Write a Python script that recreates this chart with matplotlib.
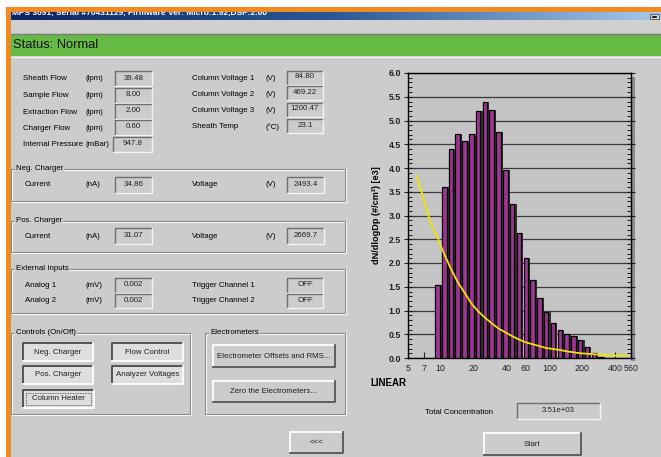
import numpy as np
import matplotlib
matplotlib.use('Agg')
import matplotlib.pyplot as plt
from matplotlib.patches import Rectangle
from matplotlib.colors import LinearSegmentedColormap
from matplotlib.ticker import FixedLocator, MultipleLocator, NullFormatter

plt.rcParams['font.family'] = ['Liberation Sans', 'DejaVu Sans']

# FMPS channel midpoints (nm) and dN/dlogDp [e3]
diameters = [6.04, 6.98, 8.06, 9.31, 10.8, 12.4, 14.3, 16.5, 19.1, 22.1, 25.5,
             29.4, 34.0, 39.2, 45.3, 52.3, 60.4, 69.8, 80.6, 93.1, 107.5, 124.1,
             143.3, 165.5, 191.1, 220.7, 254.8, 294.3, 339.8, 392.4, 453.2, 523.3]
conc = [0, 0, 0, 1.53, 3.60, 4.40, 4.72, 4.57, 4.72, 5.21, 5.38,
        5.22, 4.75, 3.96, 3.25, 2.63, 2.10, 1.65, 1.27, 0.96, 0.73, 0.59,
        0.50, 0.46, 0.37, 0.23, 0.11, 0.03, 0, 0, 0, 0]
fit = [3.83, 3.35, 2.85, 2.55, 2.18, 1.88, 1.60, 1.38, 1.15, 0.98, 0.85,
       0.73, 0.62, 0.54, 0.46, 0.39, 0.33, 0.29, 0.25, 0.21, 0.19, 0.17,
       0.14, 0.12, 0.10, 0.09, 0.08, 0.07, 0.06, 0.05, 0.05, 0.05]
xticks = [5, 7, 10, 20, 40, 60, 100, 200, 400, 560]
xgrid = [10, 20, 40, 60, 100, 200, 400]

title = "MPS 3091, Serial #70431129, Firmware Ver: Micro:1.92,DSP:2.00"
flow_rows = [("Sheath Flow", "(lpm)", "39.48"), ("Sample Flow", "(lpm)", "8.00"),
             ("Extraction Flow", "(lpm)", "2.00"), ("Charger Flow", "(lpm)", "0.60"),
             ("Internal Pressure", "(mBar)", "947.8")]
volt_rows = [("Column Voltage 1", "(V)", "84.80"), ("Column Voltage 2", "(V)", "469.22"),
             ("Column Voltage 3", "(V)", "1200.47"), ("Sheath Temp", "(\u00b0C)", "23.1")]
neg_charger = [("Current", "(nA)", "34.86"), ("Voltage", "(V)", "2493.4")]
pos_charger = [("Current", "(nA)", "31.07"), ("Voltage", "(V)", "2669.7")]
ext_inputs = [("Analog 1", "(mV)", "0.002", "Trigger Channel 1", "OFF"),
              ("Analog 2", "(mV)", "0.002", "Trigger Channel 2", "OFF")]
total_conc = "3.51e+03"

bg = '#cccccc'
fs = 5.7

fig = plt.figure(figsize=(6.61, 4.57), dpi=100, facecolor=bg)
ui = fig.add_axes([0, 0, 1, 1])
ui.set_facecolor(bg)


def frame(x0, y0, x1, y1, label):
    ui.add_patch(Rectangle((x0 + 1, y0 + 1), x1 - x0, y1 - y0, fill=False, ec='white', lw=0.8))
    ui.add_patch(Rectangle((x0, y0), x1 - x0, y1 - y0, fill=False, ec='#8a8a8a', lw=0.8))
    ui.text(x0 + 5, y0, label, ha='left', va='center', fontsize=fs,
            bbox=dict(fc=bg, ec='none', pad=0.8))


def field(x0, y0, x1, y1, text):
    ui.add_patch(Rectangle((x0, y0), x1 - x0, y1 - y0, fc=bg, ec='none'))
    ui.plot([x0, x0, x1], [y1, y0, y0], color='#6e6e6e', lw=1.0)
    ui.plot([x0, x1, x1], [y1, y1, y0], color='#f4f4f4', lw=1.0)
    ui.text((x0 + x1) / 2, (y0 + y1) / 2 - 0.5, text, ha='center', va='center',
            fontsize=fs, color='#202020')


def button(x0, y0, x1, y1, text, pressed=False, focus=False):
    face = '#dedede' if pressed else bg
    tl, br = ('#4a4a4a', 'white') if pressed else ('white', '#555555')
    ui.add_patch(Rectangle((x0, y0), x1 - x0, y1 - y0, fc=face, ec='none'))
    ui.plot([x0, x0, x1], [y1, y0, y0], color=tl, lw=1.3)
    ui.plot([x0, x1, x1], [y1, y1, y0], color=br, lw=1.3)
    if focus:
        ui.add_patch(Rectangle((x0 + 3, y0 + 3), x1 - x0 - 6, y1 - y0 - 6, fill=False,
                               ec='#444444', lw=0.6, ls=(0, (1, 1))))
    ui.text((x0 + x1) / 2, (y0 + y1) / 2, text, ha='center', va='center', fontsize=fs,
            color='#202020')


# window chrome
grad = np.linspace(0, 1, 256).reshape(1, -1)
cmap = LinearSegmentedColormap.from_list('tb', ['#0c2468', '#2a5a96', '#a6c8ec'])
ui.imshow(grad, cmap=cmap, extent=[11, 661, 20, 12], aspect='auto', zorder=1)
ui.text(12, 13.5, title, ha='left', va='center', color='white', fontsize=6.0,
        fontweight='bold', zorder=2)
ui.add_patch(Rectangle((0, 0), 661, 7, fc='white', ec='none', zorder=3))
ui.add_patch(Rectangle((6, 7), 655, 5, fc='#f28a22', ec='none', zorder=3))
ui.add_patch(Rectangle((0, 0), 6, 457, fc='white', ec='none', zorder=3))
ui.add_patch(Rectangle((6, 7), 5, 450, fc='#f28a22', ec='none', zorder=3))
ui.add_patch(Rectangle((650, 13.5), 9, 5.5, fc='#d4d4d4', ec='#555555', lw=0.6, zorder=2))
ui.plot([653, 656], [16.5, 16.5], color='black', lw=1.2, zorder=2)
ui.add_patch(Rectangle((11, 20), 650, 13, fc='#d0d0d0', ec='none'))
ui.plot([11, 661], [33.5, 33.5], color='#7a7a7a', lw=1.0)
ui.add_patch(Rectangle((11, 34), 650, 22, fc='#66bb44', ec='none'))
ui.plot([11, 661], [56.5, 56.5], color='#f0f0f0', lw=1.0)
ui.text(13, 44.5, "Status: Normal", ha='left', va='center', fontsize=9.3, color='#101010')

# flows and voltages
for (name, unit, val), y in zip(flow_rows, [79, 95.5, 112, 128, 144.5]):
    ui.text(23, y, name, ha='left', va='center', fontsize=fs)
    ui.text(85, y, unit, ha='left', va='center', fontsize=fs)
    field(115 if unit != '(mBar)' else 113, y - 8, 152, y + 7, val)
for (name, unit, val), y in zip(volt_rows, [78.5, 94, 110.5, 127]):
    ui.text(192, y, name, ha='left', va='center', fontsize=fs)
    ui.text(265, y, unit, ha='left', va='center', fontsize=fs)
    field(287, y - 8, 323, y + 6, val)

frame(11, 169, 345, 201, "Neg. Charger")
frame(11, 221, 345, 252, "Pos. Charger")
frame(11, 269, 345, 313, "External Inputs")
for rows, y in [(neg_charger, 184.5), (pos_charger, 236)]:
    (n1, u1, v1), (n2, u2, v2) = rows
    ui.text(25, y, n1, ha='left', va='center', fontsize=fs)
    ui.text(85, y, u1, ha='left', va='center', fontsize=fs)
    field(115, y - 8, 152, y + 8, v1)
    ui.text(192, y, n2, ha='left', va='center', fontsize=fs)
    ui.text(266, y, u2, ha='left', va='center', fontsize=fs)
    field(287, y - 8, 324, y + 8, v2)
for (n1, u1, v1, n2, v2), y in zip(ext_inputs, [285.5, 301]):
    ui.text(25, y, n1, ha='left', va='center', fontsize=fs)
    ui.text(85, y, u1, ha='left', va='center', fontsize=fs)
    field(115, y - 7.5, 152, y + 7, v1)
    ui.text(192, y, n2, ha='left', va='center', fontsize=fs)
    field(287, y - 7.5, 323, y + 7, v2)

# control groups
frame(11, 333, 190, 414, "Controls (On/Off)")
frame(205, 333, 345, 414, "Electrometers")
button(23, 343, 93, 361, "Neg. Charger", pressed=True)
button(112, 343, 183, 361, "Flow Control", pressed=True)
button(23, 366, 93, 384, "Pos. Charger", pressed=True)
button(112, 366, 183, 384, "Analyzer Voltages", pressed=True)
button(23, 390, 94, 408, "Column Heater", pressed=True, focus=True)
button(213, 345, 335, 367, "Electrometer Offsets and RMS...")
button(213, 381, 335, 402, "Zero the Electrometers...")
button(290, 432, 343, 453, "<<<")
button(484, 433, 581, 455, "Start")
ui.text(425, 413, "Total Concentration", ha='left', va='center', fontsize=fs)
field(517, 403, 600, 419, total_conc)
ui.text(370, 383, "LINEAR", ha='left', va='center', fontsize=7, fontweight='bold')

# plot shadow
ui.add_patch(Rectangle((631, 77), 4, 284, fc='#8c8c8c', ec='none'))

ui.set_xlim(0, 661)
ui.set_ylim(457, 0)
ui.axis('off')

# size distribution chart
ax = fig.add_axes([408 / 661, (457 - 358) / 457, (631 - 408) / 661, (358 - 73) / 457])
ax.set_facecolor('#c4c4c4')
d = np.array(diameters)
c = np.array(conc)
keep = c > 0
half = 10 ** (0.66 / 32)
left = d[keep] / half
width = d[keep] * half - left
ax.bar(left * 1.05, c[keep], width=width, align='edge', color='#303030', zorder=2)
ax.bar(left, c[keep], width=width, align='edge', color='#a03494', ec='black', lw=0.9, zorder=3)
ax.plot(diameters, fit, color='#f2e400', lw=1.3, zorder=4)

ax.set_xscale('log')
ax.set_xlim(5, 560)
ax.set_ylim(0, 6)
ax.xaxis.set_major_locator(FixedLocator(xticks))
ax.xaxis.set_major_formatter(plt.FixedFormatter([str(t) for t in xticks]))
ax.xaxis.set_minor_locator(FixedLocator(xgrid))
ax.xaxis.set_minor_formatter(NullFormatter())
ax.set_yticks(np.arange(0, 6.01, 0.5))
ax.set_yticklabels([f'{v:.1f}' for v in np.arange(0, 6.01, 0.5)], fontweight='bold')
ax.yaxis.set_minor_locator(MultipleLocator(0.1))
ax.grid(True, which='minor', axis='x', color='#3a3a3a', lw=0.9, zorder=1)
ax.grid(True, which='major', axis='y', color='#3a3a3a', lw=0.9, zorder=1)
ax.set_axisbelow(True)
ax.tick_params(axis='x', which='major', direction='in', length=4, labelsize=6.4, pad=4,
               colors='#202020')
ax.tick_params(axis='x', which='minor', length=0)
ax.tick_params(axis='y', which='major', direction='inout', length=6, labelsize=6.4, pad=2,
               right=True, colors='#202020')
ax.tick_params(axis='y', which='minor', direction='in', length=3, right=True)
for s in ax.spines.values():
    s.set_color('black')
    s.set_linewidth(1.0)
ax.set_ylabel('dN/dlogDp (#/cm\u00b3) [e3]', fontsize=6.6, fontweight='bold')
ax.yaxis.set_label_coords(-27 / 223, 0.5)

fig.savefig('out.png', dpi=100, facecolor=bg)
